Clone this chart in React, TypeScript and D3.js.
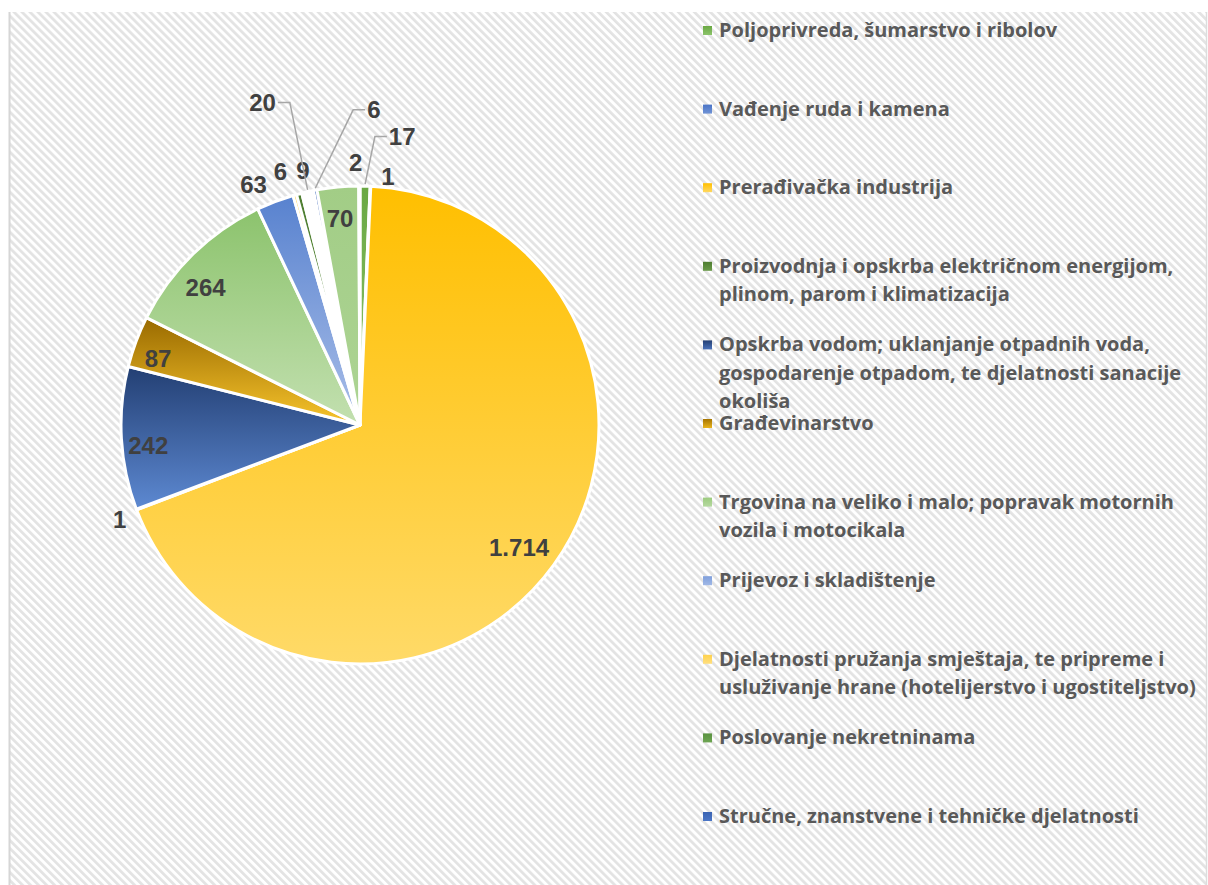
import React from "react";
import * as d3 from "d3";

// Categories in the chart's order (legend shows only the first 11)
const categories = [
  "Poljoprivreda, šumarstvo i ribolov",
  "Vađenje ruda i kamena",
  "Prerađivačka industrija",
  "Proizvodnja i opskrba električnom energijom, plinom, parom i klimatizacija",
  "Opskrba vodom; uklanjanje otpadnih voda, gospodarenje otpadom, te djelatnosti sanacije okoliša",
  "Građevinarstvo",
  "Trgovina na veliko i malo; popravak motornih vozila i motocikala",
  "Prijevoz i skladištenje",
  "Djelatnosti pružanja smještaja, te pripreme i usluživanje hrane (hotelijerstvo i ugostiteljstvo)",
  "Poslovanje nekretninama",
  "Stručne, znanstvene i tehničke djelatnosti",
  "Administrativne i pomoćne uslužne djelatnosti",
  "Djelatnosti zdravstvene zaštite i socijalne skrbi",
  "Ostale uslužne djelatnosti",
];

const values = [17, 1, 1714, 1, 242, 87, 264, 63, 6, 9, 20, 6, 70, 2];

// Legend text as wrapped in the reference
const legendLines = [
  ["Poljoprivreda, šumarstvo i ribolov"],
  ["Vađenje ruda i kamena"],
  ["Prerađivačka industrija"],
  ["Proizvodnja i opskrba električnom energijom,", "plinom, parom i klimatizacija"],
  ["Opskrba vodom; uklanjanje otpadnih voda,", "gospodarenje otpadom, te djelatnosti sanacije", "okoliša"],
  ["Građevinarstvo"],
  ["Trgovina na veliko i malo; popravak motornih", "vozila i motocikala"],
  ["Prijevoz i skladištenje"],
  ["Djelatnosti pružanja smještaja, te pripreme i", "usluživanje hrane (hotelijerstvo i ugostiteljstvo)"],
  ["Poslovanje nekretninama"],
  ["Stručne, znanstvene i tehničke djelatnosti"],
];

// gradient stops (top -> bottom) for every slice
const sliceColors: [string, string][] = [
  ["#6AA843", "#8CC46B"],
  ["#4A74C6", "#7093D6"],
  ["#FFBF00", "#FFDA68"],
  ["#4E7D30", "#6A9A4A"],
  ["#233F73", "#5D89D2"],
  ["#996A00", "#F8C52C"],
  ["#8CC36D", "#C3E0B0"],
  ["#5882CF", "#A9BEE8"],
  ["#FFD24D", "#FFE08A"],
  ["#4F7E31", "#5E9140"],
  ["#FFFFFF", "#FFFFFF"],
  ["#3F69BA", "#4F7ACB"],
  ["#A2CD86", "#ADD494"],
  ["#6AA843", "#7AB454"],
];

// legend marker gradients
const legendColors: [string, string][] = [
  ["#6AA843", "#8CC46B"],
  ["#4A74C6", "#7093D6"],
  ["#FFBF00", "#FFD860"],
  ["#4E7D30", "#6A9A4A"],
  ["#233F73", "#4A72BA"],
  ["#A67400", "#E8B41E"],
  ["#9CCB7E", "#B5D9A0"],
  ["#7F9FDC", "#A0B8E6"],
  ["#FFD24D", "#FFDF80"],
  ["#5A9240", "#6DA552"],
  ["#3A63B2", "#4C76C6"],
];

// label placement relative to each slice: [angle offset (deg), radius factor, leader line]
const labelPlacement: [number, number, boolean][] = [
  [7.1, 1.22, true],
  [3.9, 1.045, false],
  [1.7, 0.84, false],
  [-0.7, 1.08, false],
  [-2.2, 0.89, false],
  [-2.1, 0.89, false],
  [-4.0, 0.865, false],
  [-3.1, 1.1, false],
  [-1.6, 1.11, false],
  [2.1, 1.09, false],
  [-4.15, 1.41, true],
  [13.3, 1.32, true],
  [-0.2, 0.87, false],
  [-0.8, 1.1, false],
];

const W = 1208;
const H = 885;
const cx = 360;
const cy = 425;
const R = 239;

const fmt = d3.formatLocale({ decimal: ",", thousands: ".", grouping: [3], currency: ["", ""] }).format(",");

export default function App() {
  const pie = d3.pie<number>().sort(null).value(d => d)(values);
  const arc = d3.arc<d3.PieArcDatum<number>>().innerRadius(0).outerRadius(R);

  const polar = (a: number, r: number): [number, number] => [cx + r * Math.sin(a), cy - r * Math.cos(a)];

  const legendY = d3.scaleLinear().domain([0, 10]).range([30, 816]);
  const lineStep = 28.5;

  return (
    <div style={{ position: "absolute", left: 0, top: 0 }}>
      <svg width={W} height={H} style={{ display: "block" }}>
        <defs>
          <pattern id="bgStripes" width="5.66" height="10" patternUnits="userSpaceOnUse" patternTransform="rotate(-45)">
            <rect width="5.66" height="10" fill="#ffffff" />
            <rect width="2.7" height="10" fill="#E3E3E3" />
          </pattern>
          {sliceColors.map((c, i) => (
            <linearGradient key={i} id={`g${i}`} x1="0" y1="0" x2="0" y2="1">
              <stop offset="0%" stopColor={c[0]} />
              <stop offset="100%" stopColor={c[1]} />
            </linearGradient>
          ))}
          {legendColors.map((c, i) => (
            <linearGradient key={i} id={`lg${i}`} x1="0" y1="0" x2="0" y2="1">
              <stop offset="0%" stopColor={c[0]} />
              <stop offset="100%" stopColor={c[1]} />
            </linearGradient>
          ))}
        </defs>

        <rect x={0} y={0} width={W} height={H} fill="#ffffff" />
        <rect x={9} y={12} width={1197} height={H - 12} fill="url(#bgStripes)" />
        <line x1={9.5} y1={12} x2={9.5} y2={H} stroke="#D6D6D6" strokeWidth={2} />
        <line x1={1206.5} y1={12} x2={1206.5} y2={H} stroke="#DDDDDD" strokeWidth={1.5} />

        <g transform={`translate(${cx},${cy})`}>
          {pie.map((d, i) => (
            <path key={i} d={arc(d) || ""} fill={`url(#g${i})`} stroke="#ffffff" strokeWidth={3} strokeLinejoin="round" />
          ))}
        </g>

        {pie.map((d, i) => {
          const [dAng, rf, leader] = labelPlacement[i];
          const mid = (d.startAngle + d.endAngle) / 2;
          const [lx, ly] = polar(mid + (dAng * Math.PI) / 180, R * rf);
          const txt = fmt(d.data);
          let path = null;
          if (leader) {
            const [sx, sy] = polar(mid, R);
            const half = (txt.length * 13.3) / 2;
            const side = lx < sx ? 1 : -1;
            const hx0 = lx + side * (half + 2);
            const hx1 = hx0 + side * 12;
            path = (
              <path
                d={`M${hx0},${ly} L${hx1},${ly} L${sx},${sy - 2}`}
                fill="none"
                stroke="#A6A6A6"
                strokeWidth={1.5}
              />
            );
          }
          return (
            <g key={i}>
              {path}
              <text
                x={lx}
                y={ly + 8.5}
                textAnchor="middle"
                fontFamily="'Liberation Sans', Arial, sans-serif"
                fontWeight="bold"
                fontSize={24}
                fill="#404040"
              >
                {txt}
              </text>
            </g>
          );
        })}

        <g>
          {legendLines.map((lines, i) => {
            const y = legendY(i);
            return (
              <g key={i}>
                <rect x={703} y={y - 4} width={9} height={9} fill={`url(#lg${i})`} />
                {lines.map((t, j) => (
                  <text
                    key={j}
                    x={719}
                    y={y + 7 + j * lineStep}
                    fontFamily="'Open Sans', sans-serif"
                    fontWeight="bold"
                    fontSize={20}
                    fill="#595959"
                  >
                    {t}
                  </text>
                ))}
              </g>
            );
          })}
        </g>
      </svg>
    </div>
  );
}
